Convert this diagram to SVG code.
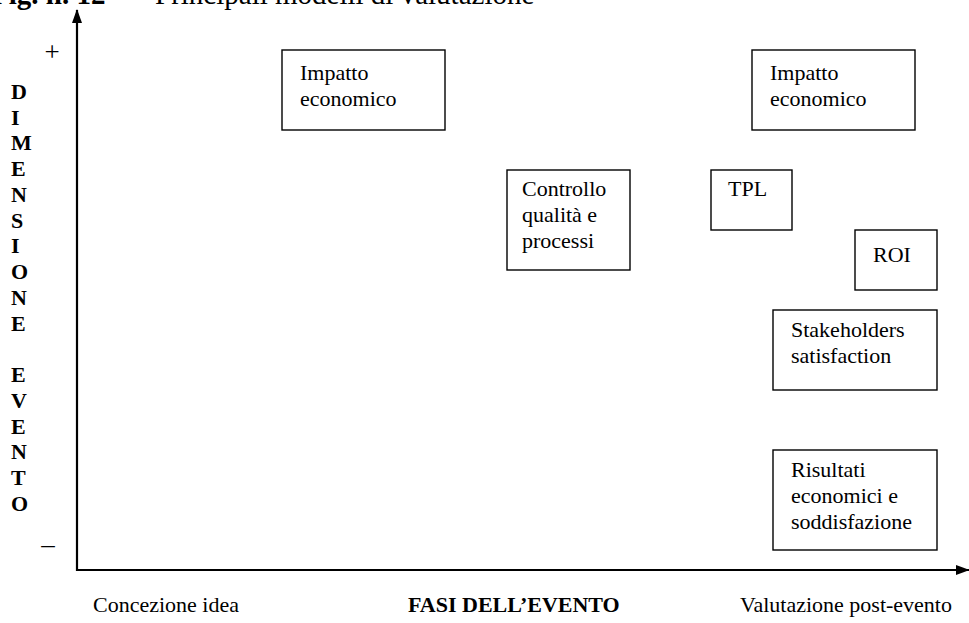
<svg xmlns="http://www.w3.org/2000/svg" width="969" height="623" viewBox="0 0 969 623">
  <style>
    text { font-family: "Liberation Serif", "Times New Roman", serif; fill: #000; }
    .lbl { font-size: 22px; }
    .sign { font-size: 27px; }
    .vert { font-size: 22px; font-weight: bold; }
    .title { font-size: 29px; }
    .box { fill: #fff; stroke: #000; stroke-width: 1.4; }
    .axis { stroke: #000; stroke-width: 2.2; fill: none; }
  </style>
  <defs>
    <marker id="head" viewBox="0 0 14 10" refX="13" refY="5" markerWidth="14" markerHeight="10" markerUnits="userSpaceOnUse" orient="auto">
      <path d="M0,0 L14,5 L0,10 Z" fill="#000"/>
    </marker>
  </defs>
  <rect width="969" height="623" fill="#fff"/>

  <!-- caption, running off the top edge -->
  <g id="caption">
    <text class="title" x="-9" y="4" font-weight="bold">Fig. n. 12</text>
    <text class="title" x="120" y="4">–</text>
    <text class="title" x="155" y="4">Principali modelli di valutazione</text>
  </g>

  <!-- axes -->
  <g id="connectors">
    <line class="axis" x1="77" y1="571" x2="77" y2="10" marker-end="url(#head)"/>
    <line class="axis" x1="76" y1="570" x2="969" y2="570" marker-end="url(#head)"/>
  </g>

  <!-- axis labels -->
  <g id="axis-labels">
    <text class="sign" x="52" y="61" text-anchor="middle">+</text>
    <text class="sign" x="48" y="553" text-anchor="middle">–</text>
    <text class="vert" x="11" y="99">D</text>
    <text class="vert" x="11" y="125">I</text>
    <text class="vert" x="11" y="150">M</text>
    <text class="vert" x="11" y="176">E</text>
    <text class="vert" x="11" y="202">N</text>
    <text class="vert" x="11" y="228">S</text>
    <text class="vert" x="11" y="253">I</text>
    <text class="vert" x="11" y="279">O</text>
    <text class="vert" x="11" y="305">N</text>
    <text class="vert" x="11" y="331">E</text>
    <text class="vert" x="11" y="382">E</text>
    <text class="vert" x="11" y="408">V</text>
    <text class="vert" x="11" y="434">E</text>
    <text class="vert" x="11" y="459">N</text>
    <text class="vert" x="11" y="485">T</text>
    <text class="vert" x="11" y="511">O</text>
    <text class="lbl" x="93" y="612">Concezione idea</text>
    <text class="lbl" x="408" y="612" font-weight="bold">FASI DELL’EVENTO</text>
    <text class="lbl" x="740" y="612">Valutazione post-evento</text>
  </g>

  <!-- nodes -->
  <g id="impatto-idea">
    <rect class="box" x="282" y="50" width="163" height="80"/>
    <text class="lbl" x="300" y="80">Impatto</text>
    <text class="lbl" x="300" y="106">economico</text>
  </g>
  <g id="impatto-post">
    <rect class="box" x="752" y="50" width="163" height="80"/>
    <text class="lbl" x="770" y="80">Impatto</text>
    <text class="lbl" x="770" y="106">economico</text>
  </g>
  <g id="controllo">
    <rect class="box" x="507" y="170" width="123" height="100"/>
    <text class="lbl" x="522" y="196">Controllo</text>
    <text class="lbl" x="522" y="222">qualità e</text>
    <text class="lbl" x="522" y="248">processi</text>
  </g>
  <g id="tpl">
    <rect class="box" x="711" y="170" width="81" height="60"/>
    <text class="lbl" x="728" y="196">TPL</text>
  </g>
  <g id="roi">
    <rect class="box" x="855" y="230" width="82" height="60"/>
    <text class="lbl" x="873" y="262">ROI</text>
  </g>
  <g id="stakeholders">
    <rect class="box" x="773" y="310" width="164" height="80"/>
    <text class="lbl" x="791" y="337">Stakeholders</text>
    <text class="lbl" x="791" y="363">satisfaction</text>
  </g>
  <g id="risultati">
    <rect class="box" x="773" y="450" width="164" height="100"/>
    <text class="lbl" x="791" y="477">Risultati</text>
    <text class="lbl" x="791" y="503">economici e</text>
    <text class="lbl" x="791" y="529">soddisfazione</text>
  </g>
</svg>
